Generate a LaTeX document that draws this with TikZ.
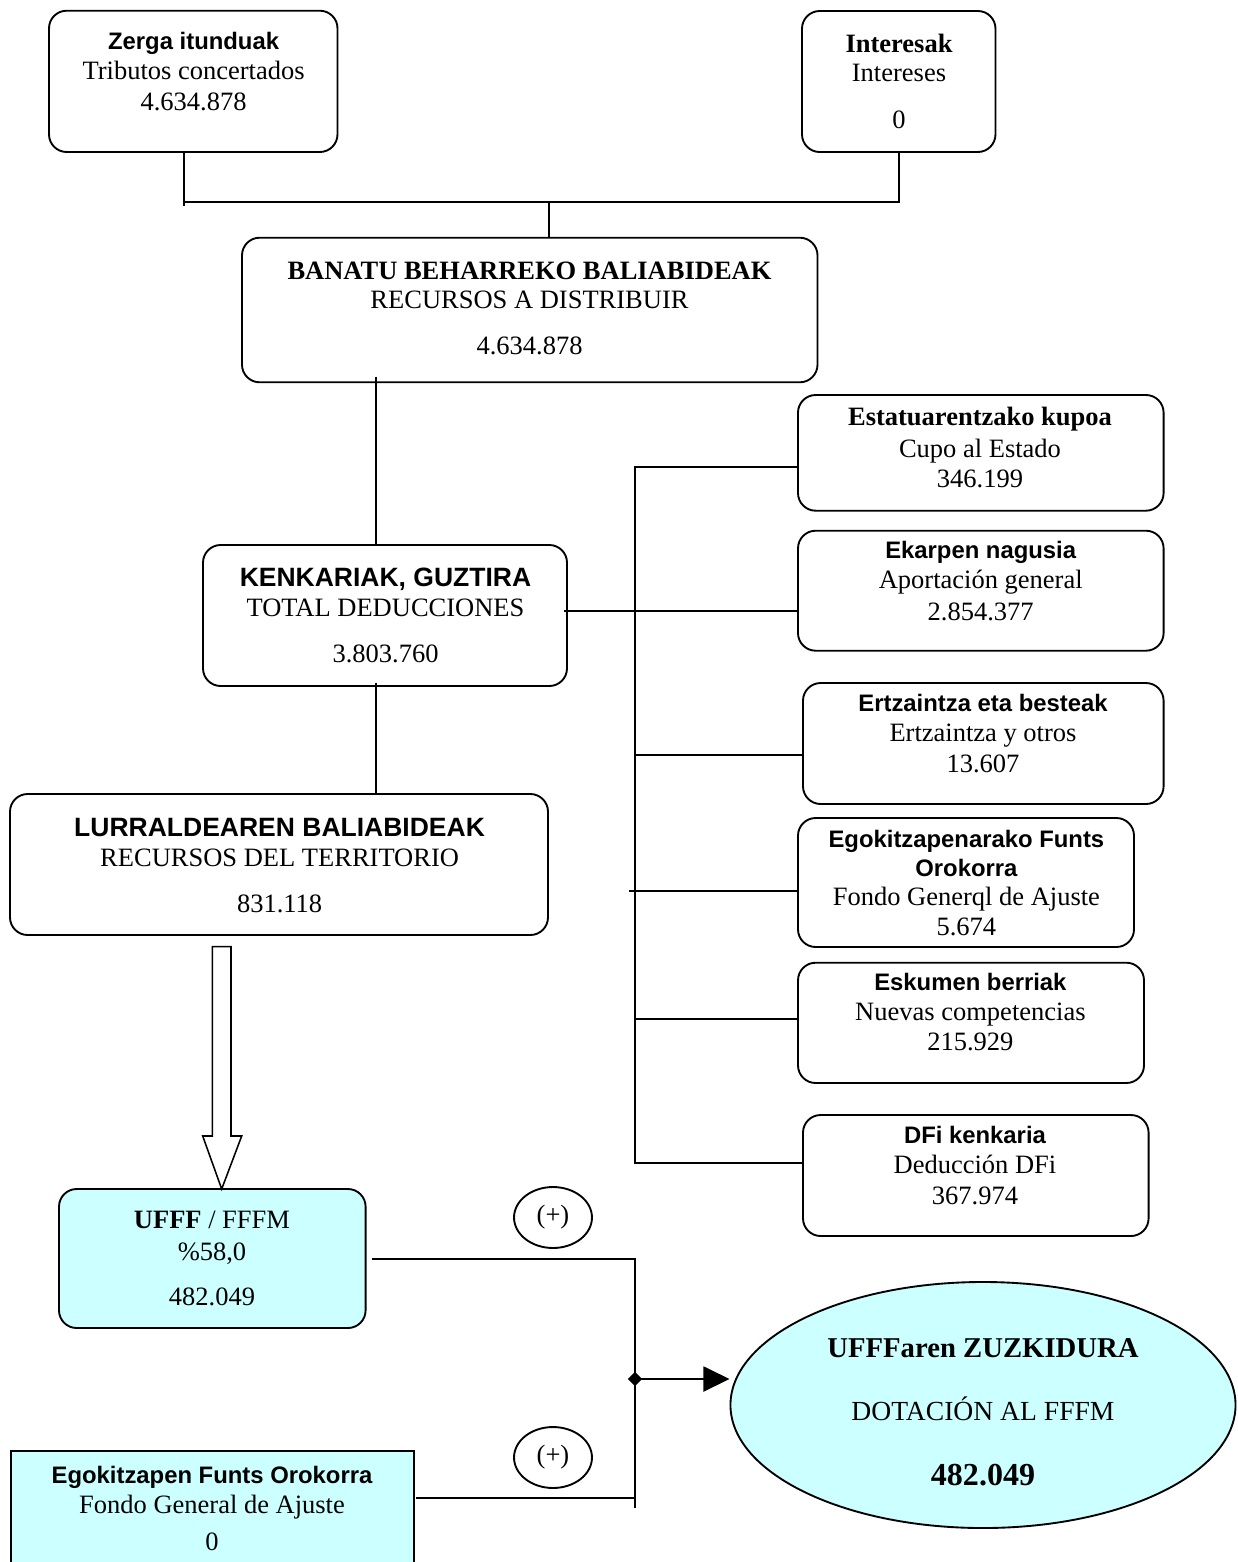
\documentclass[tikz,border=0pt]{standalone}
\usepackage{fontspec}
\setmainfont{Liberation Serif}
\setsansfont{Liberation Sans}
\usetikzlibrary{shapes.geometric,arrows.meta,fit,calc}
\definecolor{cyanfill}{HTML}{CCFFFF}
\begin{document}
\begin{tikzpicture}[x=0.4528pt,y=-0.4528pt,line width=0.85pt,
  rbox/.style={draw, rounded corners=8pt, inner sep=0pt},
  sbox/.style={draw, inner sep=0pt},
  tx/.style={anchor=base, inner sep=0pt, font=\fontsize{12}{14}\selectfont},
  tb/.style={anchor=base, inner sep=0pt, font=\fontsize{12}{14}\selectfont\bfseries},
  hs/.style={anchor=base, inner sep=0pt, font=\fontsize{10.8}{13}\selectfont\sffamily\bfseries},
  hS/.style={anchor=base, inner sep=0pt, font=\fontsize{12}{14}\selectfont\sffamily\bfseries},
  plus/.style={draw, ellipse, minimum width=35.3pt, minimum height=27.6pt, inner sep=0pt, font=\fontsize{12}{14}\selectfont}
]
\useasboundingbox (0,0) rectangle (1237,1562);
\fill[white] (0,0) rectangle (1237,1562);
\clip (0,0) rectangle (1237,1562);

% ---------- boxes ----------
\node[rbox, fit={(49,10.7) (337.5,152)}] (zerga) {};
\node[rbox, fit={(802,11) (995.5,152)}] (inter) {};
\node[rbox, fit={(242,237.7) (817.5,382.3)}] (banatu) {};
\node[rbox, fit={(203,545) (567,686)}] (kenk) {};
\node[rbox, fit={(10,794) (548,935)}] (lurr) {};
\node[rbox, fit={(798,395) (1163.6,510.7)}] (estat) {};
\node[rbox, fit={(798,530.7) (1163.6,650.7)}] (ekar) {};
\node[rbox, fit={(803,683) (1163.6,804)}] (ertz) {};
\node[rbox, fit={(798,818) (1134,947)}] (egokr) {};
\node[rbox, fit={(798,962.7) (1144,1083)}] (esk) {};
\node[rbox, fit={(803,1115) (1148.6,1236)}] (dfi) {};
\node[rbox, fill=cyanfill, fit={(59,1189) (365.6,1328)}] (ufff) {};
\node[sbox, fill=cyanfill, fit={(10.7,1451) (414,1640)}] (egok) {};
\node[draw, ellipse, fill=cyanfill, inner sep=0pt, minimum width=228.7pt, minimum height=111.4pt] (ell) at (983,1405) {};
\node[plus] (p1) at (553,1217.5) {(+)};
\node[plus] (p2) at (553,1457.5) {(+)};

% ---------- texts ----------
\node[hs] (t1a) at (193.6,49.3) {Zerga itunduak};
\node[tx] (t1b) at (193.6,79) {Tributos concertados};
\node[tx] (t1c) at (193.6,110) {4.634.878};

\node[tb] (t2a) at (899,52.3) {Interesak};
\node[tx] (t2b) at (899,81.7) {Intereses};
\node[tx] (t2c) at (899,128) {0};

\node[tb] (t3a) at (529.5,279.3) {BANATU BEHARREKO BALIABIDEAK};
\node[tx] (t3b) at (529.5,308) {RECURSOS A DISTRIBUIR};
\node[tx] (t3c) at (529.5,354) {4.634.878};

\node[hS] (t4a) at (385.5,586) {KENKARIAK, GUZTIRA};
\node[tx] (t4b) at (385.5,616.4) {TOTAL DEDUCCIONES};
\node[tx] (t4c) at (385.5,662) {3.803.760};

\node[hS] (t5a) at (279.6,836) {LURRALDEAREN BALIABIDEAK};
\node[tx] (t5b) at (279.6,866.4) {RECURSOS DEL TERRITORIO};
\node[tx] (t5c) at (279.6,912) {831.118};

\node[tb] (t6a) at (980,425.7) {Estatuarentzako kupoa};
\node[tx] (t6b) at (980,457) {Cupo al Estado};
\node[tx] (t6c) at (980,487) {346.199};

\node[hs] (t7a) at (980.7,558) {Ekarpen nagusia};
\node[tx] (t7b) at (980.7,588) {Aportación general};
\node[tx] (t7c) at (980.7,620) {2.854.377};

\node[hs] (t8a) at (983,711.7) {Ertzaintza eta besteak};
\node[tx] (t8b) at (983,741.7) {Ertzaintza y otros};
\node[tx] (t8c) at (983,772.7) {13.607};

\node[hs] (t9a) at (966.4,847) {Egokitzapenarako Funts};
\node[hs] (t9b) at (966.4,876) {Orokorra};
\node[tx] (t9c) at (966.4,905) {Fondo Generql de Ajuste};
\node[tx] (t9d) at (966.4,935) {5.674};

\node[hs] (t10a) at (970.4,990.7) {Eskumen berriak};
\node[tx] (t10b) at (970.4,1020.7) {Nuevas competencias};
\node[tx] (t10c) at (970.4,1050.7) {215.929};

\node[hs] (t11a) at (975,1143.3) {DFi kenkaria};
\node[tx] (t11b) at (975,1173.3) {Deducción DFi};
\node[tx] (t11c) at (975,1204.3) {367.974};

\node[tx] (t12a) at (212,1228) {\textbf{UFFF} / FFFM};
\node[tx] (t12b) at (212,1260) {\%58,0};
\node[tx] (t12c) at (212,1305) {482.049};

\node[hs] (t13a) at (212,1483.3) {Egokitzapen Funts Orokorra};
\node[tx] (t13b) at (212,1513.3) {Fondo General de Ajuste};
\node[tx] (t13c) at (212,1550.7) {0};

\node[anchor=base, inner sep=0pt, font=\fontsize{13}{15}\selectfont\bfseries] (t14a) at (983,1357) {UFFFaren ZUZKIDURA};
\node[anchor=base, inner sep=0pt, font=\fontsize{12.5}{15}\selectfont] (t14b) at (983,1420) {DOTACIÓN AL FFFM};
\node[anchor=base, inner sep=0pt, font=\fontsize{14.5}{17}\selectfont\bfseries] (t14c) at (983,1485) {482.049};

% ---------- connectors ----------
\coordinate (a1) at (184,202);
\coordinate (a2) at (549,202);
\coordinate (a3) at (376,0);
\draw (zerga.south -| a1) -- ([yshift=-1.6pt]a1);
\draw (a1) -| (inter.south);
\draw (a2) -- (a2 |- banatu.north);
\draw ([yshift=3pt]banatu.south -| a3) -- (kenk.north -| a3);
\draw ([yshift=2pt]kenk.south -| a3) -- (lurr.north -| a3);

\coordinate (k1) at (635,611);
\coordinate (r0) at (635,467);
\coordinate (r6) at (635,1163);
\coordinate (r3) at (635,755);
\coordinate (r4) at (629,891);
\coordinate (r5) at (635,1019);
\draw ([xshift=-2pt]kenk.east |- k1) -- (k1 -| ekar.west);
\draw (estat.west |- r0) -- (r0) -- (r6) -- (r6 -| dfi.west);
\draw (r3) -- (r3 -| ertz.west);
\draw (r4) -- (r4 -| egokr.west);
\draw (r5) -- (r5 -| esk.west);

% hollow arrow
\draw[fill=white, line width=0.7pt] (212.3,946.7) -- (231,946.7) -- (231,1136) -- (241.7,1136)
  -- (221.7,1189) -- (202.7,1136) -- (212.3,1136) -- cycle;

\coordinate (c1) at (635,1259);
\coordinate (c2) at (635,1508);
\coordinate (c3) at (635,1498);
\coordinate (dj) at (635,1379);
\draw ($(ufff.east |- c1)+(5,0)$) -- (c1) -- (c2);
\draw ($(egok.east |- c3)+(1,0)$) -- (c3);
\node[diamond, fill=black, inner sep=0pt, minimum size=6.8pt] (dm) at (dj) {};
\draw[line width=1pt, -{Triangle[length=11.8pt,width=11.3pt]}] (dm.center) -- (dj -| ell.west);
\end{tikzpicture}
\end{document}
